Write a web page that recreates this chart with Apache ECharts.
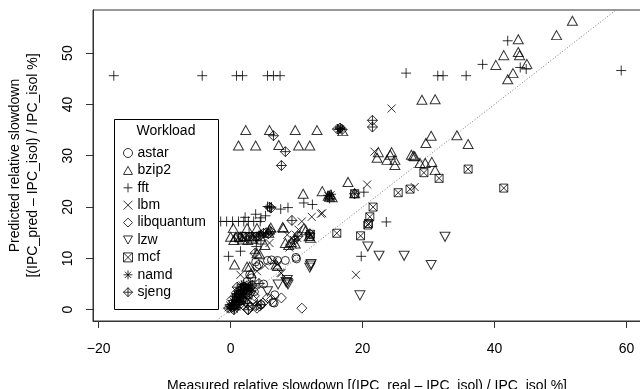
<!DOCTYPE html>
<html><head><meta charset="utf-8">
<script src="https://cdn.jsdelivr.net/npm/echarts@6/dist/echarts.min.js"></script>
<style>html,body{margin:0;padding:0;background:#fff}#c{width:640px;height:389px}</style>
</head><body><div id="c"></div>
<script>
const xTicks = [-20, 0, 20, 40, 60];
const yTicks = [0, 10, 20, 30, 40, 50];
const refLine = [[-5, -5], [70, 70]];

const astar = [[10.0,9.9],[8.3,9.6],[7.1,9.6],[6.2,9.7],[5.6,9.6],[3.8,9.3],[4.0,8.4],[2.9,6.8],[4.3,8.8],[6.6,1.3],[4.6,1.0],[6.7,2.9],[6.4,1.4],[3.2,6.2],[2.0,4.5],[1.3,3.0],[0.8,2.5],[1.8,2.0],[3.6,3.5],[5.0,5.0],[2.5,5.5],[9.9,10.2]];
const bzip2 = [[51.8,56.3],[49.4,53.5],[43.6,52.7],[41.4,49.6],[43.6,50.2],[43.8,49.6],[44.9,47.9],[40.2,47.7],[42.8,46.1],[42.0,44.9],
[29.0,40.9],[31.0,41.0],[2.3,35.0],[5.9,35.0],[9.8,35.0],[13.1,35.0],[17.0,34.8],
[1.2,32.0],[3.8,32.0],[7.3,32.1],[10.3,32.0],[12.0,32.0],[34.3,34.0],[36.0,32.3],[30.4,33.9],[29.6,32.5],
[22.4,30.7],[22.2,29.6],[24.4,30.7],[23.7,29.2],[24.9,29.2],[24.9,28.2],[24.2,30.2],[27.4,30.2],[27.7,30.0],[27.9,29.9],
[28.7,28.6],[29.5,28.6],[30.5,28.8],[31.0,27.2],[17.8,24.9],[13.9,23.1],[11.0,22.6],[14.8,22.2],[15.1,22.4],[15.4,21.9],[15.0,22.0],[18.8,22.7],
[0.4,15.9],[2.5,15.9],[4.0,15.9],[5.9,15.6],[8.0,15.9],[11.1,15.9],[11.4,15.5],[11.9,14.3],[12.1,14.0],
[0.0,14.2],[0.8,14.2],[1.5,14.2],[3.2,13.9],[4.5,14.3],[0.5,13.6],[1.8,13.7],[2.6,13.6],[3.4,13.8],[5.2,12.6],[6.1,16.0],[7.9,16.1],
[8.3,13.0],[8.8,12.6],[9.2,13.2],[9.8,12.9],[0.6,8.8],[2.5,8.4],[2.9,8.4],[7.1,8.5],[6.9,8.8],[4.0,11.0],[4.4,10.8],[3.1,7.1],[5.8,15.0]];
const fft = [[-17.7,45.6],[-4.3,45.6],[0.9,45.6],[1.8,45.6],[5.6,45.6],[6.5,45.6],[7.5,45.6],
[26.6,46.1],[31.4,45.6],[32.2,45.6],[35.7,45.6],[38.2,47.8],[42.0,52.4],[43.9,47.2],[44.8,46.9],[59.2,46.6],
[23.6,17.1],[19.8,10.4],[20.2,22.9],[15.0,21.7],
[-1.5,17.2],[-0.6,17.2],[0.3,17.2],[1.2,17.2],[2.0,17.2],[2.7,17.2],[3.5,17.2],[4.5,17.2],
[2.2,18.0],[3.8,18.6],[4.6,17.9],[5.3,18.3],[5.6,20.1],[6.2,20.0],[7.6,19.6],[8.7,19.9],[11.1,20.8],[12.4,20.5],
[-0.3,10.4],[1.5,11.4],[3.9,12.3],[4.6,12.8],[2.8,15.0]];
const lbm = [[24.4,39.2],[21.8,30.8],[20.7,24.4],[27.9,23.9],[13.9,18.8],[12.3,18.1],[13.7,18.7],[10.8,17.2],[10.3,15.6],[9.9,14.6],[9.6,13.6],[9.4,12.7],[8.6,14.6],[5.9,13.0],
[7.7,7.1],[7.1,8.8],[6.5,9.4],[5.2,8.6],[1.5,6.8],[19.0,6.8],[7.6,7.2],[8.9,12.1],[3.3,5.0],[2.5,3.5],[4.0,7.5],[10.1,14.0]];
const libquantum = [[10.8,0.3],[7.7,2.3],[5.6,2.3],[3.4,1.9],[2.6,0.0],[2.2,1.6],[1.2,1.3],[4.4,0.7],[4.0,0.3],[3.0,0.6],[0.3,0.6],[-0.3,0.3],[0.8,1.1],[1.6,2.2],[2.4,3.1],[4.9,1.3],[6.2,2.0],[3.6,2.7],[1.9,0.9],[0.2,2.0],[0.9,3.3],[1.5,4.0],[2.9,4.3]];
const lzw = [[32.5,14.2],[20.8,12.3],[22.5,10.5],[26.3,10.5],[30.4,8.7],[19.6,2.8],[12.1,8.6],[12.0,8.2],[12.2,8.9],[8.6,5.8],[7.2,4.9],[8.4,5.4],[8.7,4.9],[5.6,3.6],[3.1,2.9],[2.2,3.9],[1.3,2.7],[8.6,5.2]];
const mcf = [[36.0,27.4],[41.4,23.7],[31.6,25.6],[29.3,26.7],[27.2,23.5],[25.4,22.8],[21.6,20.0],[21.1,18.1],[20.8,16.5],[20.9,16.8],[19.7,14.4],[16.1,14.9],[18.8,22.6],[12.0,14.3],[12.1,14.7],
[2.2,14.2],[2.9,14.2],[3.7,14.2],[1.2,14.0],[1.8,14.3]];
const namd = [[16.7,35.3],[16.4,35.1],[15.0,22.1],[15.3,22.5],[14.7,22.3],
[-0.4,0.3],[0.0,0.6],[0.2,1.0],[0.5,1.4],[0.7,1.9],[1.0,2.4],[1.3,2.9],[1.6,3.4],[1.9,3.9],[2.2,4.4],[2.5,4.8],[0.1,0.2],[0.4,0.8],[0.9,1.5],[1.2,2.0],[1.5,2.6],[1.8,3.1],[2.1,3.6],[2.4,4.1],[2.7,4.6],[0.6,2.6],[0.9,3.1],[1.2,3.7],[1.5,4.2],[0.3,1.8],[1.1,1.0],[1.6,1.6],[2.0,2.5],[2.4,3.0],[2.8,3.8],[3.0,4.4],[2.0,5.0],[1.0,0.4],[1.7,4.9],[3.2,3.6],[0.6,0.0],[-0.2,1.0]];
const sjeng = [[21.5,36.9],[21.5,35.6],[16.2,35.2],[16.9,35.1],[16.6,35.4],[6.5,33.9],[8.3,30.8],[7.7,28.1],[9.3,17.4],[5.9,20.0],[18.8,22.6],[3.7,11.0],[4.3,5.1],[4.6,14.6],[5.0,14.9],[5.4,15.0],[5.7,14.8],[6.1,15.2],[3.9,14.2],[4.3,14.4],[10.2,14.3],[9.7,13.6],[12.0,14.8],[1.4,1.0],[2.7,0.0],[3.9,0.8],[4.6,1.0],[2.2,2.2],[0.5,0.0],[3.3,4.8],[1.0,4.4],[2.6,1.2],[6.1,19.8]];

const names = ['astar','bzip2','fft','lbm','libquantum','lzw','mcf','namd','sjeng'];
const dataMap = {astar, bzip2, fft, lbm, libquantum, lzw, mcf, namd, sjeng};
const symbols = {
  astar: ['circle', 8],
  bzip2: ['path://M5,0L10,9L0,9Z', [10, 9]],
  fft: ['path://M0,5L10,5M5,0L5,10', 10],
  lbm: ['path://M0,0L10,10M0,10L10,0', 8],
  libquantum: ['path://M5,0L10,5L5,10L0,5Z', 10],
  lzw: ['path://M0,0L10,0L5,9Z', [10, 9]],
  mcf: ['path://M0,0L10,0L10,10L0,10Z M0,0L10,10 M0,10L10,0', 8],
  namd: ['path://M0,5L10,5M5,0L5,10M1.5,1.5L8.5,8.5M1.5,8.5L8.5,1.5', 9],
  sjeng: ['path://M5,0L10,5L5,10L0,5Z M0,5L10,5 M5,0L5,10', 10]
};
const FONT = 'Liberation Sans';
const minus = v => String(v).replace('-', '\u2212');

const series = names.map(n => ({
  name: n, type: 'scatter', data: dataMap[n],
  symbol: symbols[n][0], symbolSize: symbols[n][1],
  itemStyle: {color: 'rgba(0,0,0,0)', borderColor: '#000', borderWidth: 1},
  emphasis: {disabled: true}
}));
series.unshift({
  type: 'line', data: refLine, showSymbol: false, silent: true,
  lineStyle: {color: '#777', width: 1, type: [1, 2]}, clip: true, z: 1
});

const chart = echarts.init(document.getElementById('c'), null, {renderer: 'canvas'});
chart.setOption({
  animation: false,
  backgroundColor: '#fff',
  grid: {left: 93, top: 10, width: 548, height: 311, containLabel: false, outerBoundsMode: 'none',
         show: true, borderColor: '#333', borderWidth: 1, backgroundColor: 'transparent'},
  xAxis: {
    type: 'value', min: -20.85, max: 62.2,
    splitLine: {show: false},
    axisLine: {show: true, onZero: false, lineStyle: {color: '#333'}},
    axisTick: {show: true, length: 7, customValues: xTicks, lineStyle: {color: '#333'}},
    axisLabel: {customValues: xTicks, formatter: minus, margin: 21, fontFamily: FONT, fontSize: 14, color: '#000'},
    name: 'Measured relative slowdown [(IPC_real \u2013 IPC_isol) / IPC_isol %]',
    nameLocation: 'middle', nameGap: 58,
    nameTextStyle: {fontFamily: FONT, fontSize: 14, color: '#000'}
  },
  yAxis: {
    type: 'value', min: -2.2, max: 58.4,
    splitLine: {show: false},
    axisLine: {show: true, onZero: false, lineStyle: {color: '#333'}},
    axisTick: {show: true, length: 7, customValues: yTicks, lineStyle: {color: '#333'}},
    axisLabel: {customValues: yTicks, rotate: 90, margin: 18, fontFamily: FONT, fontSize: 14, color: '#000'},
    name: 'Predicted relative slowdown\n[(IPC_pred \u2013 IPC_isol) / IPC_isol %]',
    nameLocation: 'middle', nameGap: 51, nameRotate: 90,
    nameTextStyle: {fontFamily: FONT, fontSize: 14, lineHeight: 18, color: '#000'}
  },
  legend: {
    data: names, orient: 'vertical', left: 123, top: 146, padding: 0, z: 100,
    itemWidth: 9, itemHeight: 9, itemGap: 3.4,
    itemStyle: {borderWidth: 1},
    textStyle: {fontFamily: FONT, fontSize: 14, lineHeight: 14, color: '#000'},
    inactiveColor: '#000', selectedMode: false
  },
  graphic: [
    {type: 'rect', shape: {x: 114.5, y: 119.5, width: 104, height: 190}, style: {fill: '#fff', stroke: '#000', lineWidth: 1}, z: 50},
    {type: 'text', x: 166, y: 131, style: {text: 'Workload', font: '14px "Liberation Sans"', fill: '#000', textAlign: 'center', textVerticalAlign: 'middle'}, z: 51}
  ],
  series: series
});
</script></body></html>
